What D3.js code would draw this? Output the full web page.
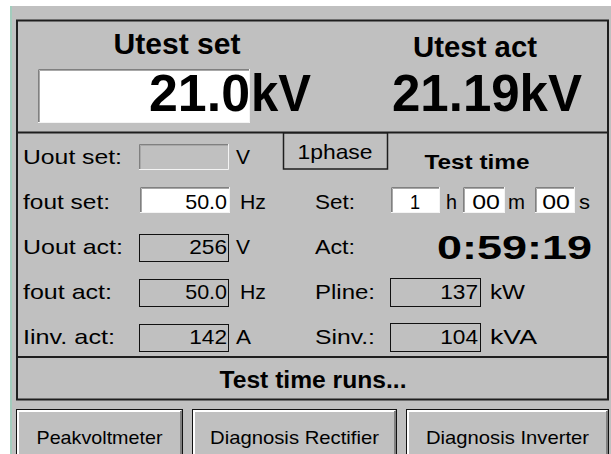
<!DOCTYPE html>
<html><head><meta charset="utf-8">
<script src="https://cdn.jsdelivr.net/npm/d3@7"></script>
<style>html,body{margin:0;padding:0;background:#fff;overflow:hidden}</style>
</head><body>
<svg id="c" width="611" height="454"></svg>
<script>
// ---- data ----
const headers = ["Utest set", "Utest act"];
const utestSet = "21.0";
const utestAct = "21.19";
const utestUnit = "kV";
const leftLabels = ["Uout set:", "fout set:", "Uout act:", "fout act:", "Iinv. act:"];
const leftValues = ["", "50.0", "256", "50.0", "142"];
const leftUnits = ["V", "Hz", "V", "Hz", "A"];
const leftKinds = ["empty", "input", "display", "display", "display"];
const phaseLabel = "1phase";
const testTimeTitle = "Test time";
const rightLabels = ["Set:", "Act:", "Pline:", "Sinv.:"];
const timeSetValues = ["1", "00", "00"];
const timeSetUnits = ["h", "m", "s"];
const timeAct = "0:59:19";
const powerValues = ["137", "104"];
const powerUnits = ["kW", "kVA"];
const statusText = "Test time runs...";
const buttonLabels = ["Peakvoltmeter", "Diagnosis Rectifier", "Diagnosis Inverter"];

// ---- layout ----
const FONT = "'Liberation Sans', Arial, sans-serif";
const GRAY = "#c0c0c0", DARK = "#1e1e1e";
const FS = 21;           // body font size
const DIGIT_W = 12.6;    // approx. rendered width per digit in the reference
const svg = d3.select("#c");

svg.append("rect").attr("width", 611).attr("height", 454).attr("fill", "#fff");
svg.append("rect").attr("x", 12).attr("y", 6).attr("width", 599).attr("height", 448).attr("fill", GRAY);
svg.append("rect").attr("x", 10).attr("y", 6).attr("width", 2).attr("height", 448).attr("fill", "#a3cdbd");

// section frames
svg.append("rect").attr("x", 17).attr("y", 20.5).attr("width", 591).attr("height", 379)
  .attr("fill", "none").attr("stroke", DARK).attr("stroke-width", 2);
[132.5, 357].forEach(y => svg.append("line").attr("x1", 17).attr("x2", 608).attr("y1", y).attr("y2", y)
  .attr("stroke", DARK).attr("stroke-width", 2));

function txt(g, s, x, y, size, opts = {}) {
  const t = g.append("text").attr("x", x).attr("y", y).text(s)
    .attr("font-family", FONT).attr("font-size", size).attr("fill", "#000")
    .attr("font-weight", opts.bold ? "bold" : "normal")
    .attr("text-anchor", opts.anchor || "start");
  if (opts.len) t.attr("textLength", opts.len).attr("lengthAdjust", "spacingAndGlyphs");
  return t;
}
function numLen(s) { return s.replace(/\./g, "").length * DIGIT_W + (s.includes(".") ? 4 : 0); }
function sunken(g, x, y, w, h, fill) {
  g.append("rect").attr("x", x).attr("y", y).attr("width", w).attr("height", h).attr("fill", fill);
  g.append("path").attr("d", `M${x+0.5},${y+h}V${y+0.5}H${x+w}`).attr("fill", "none").attr("stroke", "#808080").attr("stroke-width", 1);
  g.append("path").attr("d", `M${x+1.5},${y+h-1}V${y+1.5}H${x+w-1}`).attr("fill", "none").attr("stroke", "#a8a8a8").attr("stroke-width", 1);
  g.append("path").attr("d", `M${x},${y+h-0.5}H${x+w-0.5}V${y}`).attr("fill", "none").attr("stroke", "#f4f4f4").attr("stroke-width", 1);
}
function display(g, x, y, w, h) {
  g.append("rect").attr("x", x + 0.5).attr("y", y + 0.5).attr("width", w - 1).attr("height", h - 1)
    .attr("fill", GRAY).attr("stroke", "#111").attr("stroke-width", 1);
}

// ---- top section ----
const topG = svg.append("g");
const headX = d3.scalePoint().domain(headers).range([177, 475]);
const headLen = [127, 124], headY = [54, 57];
headers.forEach((h, i) => txt(topG, h, headX(h), headY[i], 29, { bold: true, anchor: "middle", len: headLen[i] }));
sunken(topG, 38, 69, 212, 54, "#fff");
txt(topG, utestSet, 250, 111, 51, { bold: true, anchor: "end", len: 101 });
txt(topG, utestUnit, 251, 111, 51, { bold: true, len: 60 });
txt(topG, utestAct + utestUnit, 392, 111, 51, { bold: true, len: 190 });

// ---- middle section ----
const mid = svg.append("g");
const rowY = d3.scalePoint().domain(d3.range(5)).range([157, 337]);
const leftLens = [99, 87, 100, 89, 92];
const unitLen = { "V": 14, "Hz": 26, "A": 15, "kW": 35, "kVA": 47 };
leftLabels.forEach((l, i) => {
  const cy = rowY(i);
  txt(mid, l, 23, cy + 7, FS, { len: leftLens[i] });
  const bx = 139, bw = 90, by = cy - 13, bh = 27;
  if (leftKinds[i] === "display") display(mid, bx, by, bw, bh + 1);
  else sunken(mid, bx + (leftKinds[i] === "input" ? 1 : 0), by - (leftKinds[i] === "empty" ? 0 : 2), bw, bh - 1, leftKinds[i] === "input" ? "#fff" : GRAY);
  if (leftValues[i]) txt(mid, leftValues[i], 227, cy + 7, FS, { anchor: "end", len: numLen(leftValues[i]) });
  txt(mid, leftUnits[i], leftUnits[i] === "Hz" ? 240 : 236, cy + 7, FS, { len: unitLen[leftUnits[i]] });
});

// 1phase box
mid.append("rect").attr("x", 283.5).attr("y", 133).attr("width", 104).attr("height", 36)
  .attr("fill", GRAY).attr("stroke", DARK).attr("stroke-width", 1.5);
txt(mid, phaseLabel, 335, 159, FS, { anchor: "middle", len: 75 });
txt(mid, testTimeTitle, 477, 169, 21, { bold: true, anchor: "middle", len: 105 });

rightLabels.forEach((l, i) => txt(mid, l, 315, rowY(i + 1) + 7, FS, { len: i < 2 ? 40 : 60 }));

// time set boxes
const tBoxes = [[391, 49], [463, 42], [535, 40]];
const tUnitX = [446, 508, 579];
const tUnitLen = [11, 17, 11];
timeSetValues.forEach((v, i) => {
  const cy = rowY(1);
  sunken(mid, tBoxes[i][0], cy - 15, tBoxes[i][1], 26, "#fff");
  txt(mid, v, i === 0 ? tBoxes[i][0] + 24 : tBoxes[i][0] + tBoxes[i][1] - 5, cy + 7, FS,
      { anchor: i === 0 ? "middle" : "end", len: numLen(v) * (i === 0 ? 0.8 : 1.1) });
  txt(mid, timeSetUnits[i], tUnitX[i], cy + 7, FS, { len: tUnitLen[i] });
});
txt(mid, timeAct, 437, rowY(2) + 12, 34, { bold: true, len: 155 });

powerValues.forEach((v, i) => {
  const cy = rowY(i + 3);
  display(mid, 390, cy - 14, 91, 29);
  txt(mid, v, 478, cy + 7, FS, { anchor: "end", len: numLen(v) });
  txt(mid, powerUnits[i], 490, cy + 7, FS, { len: unitLen[powerUnits[i]] });
});

// ---- status ----
txt(svg, statusText, 313, 388, 23, { bold: true, anchor: "middle", len: 187 });

// ---- buttons ----
const btnExt = [[16, 183], [192, 397], [406, 609]];
const btnLen = [126, 169, 163];
const btn = svg.append("g");
buttonLabels.forEach((b, i) => {
  const [x0, x1] = btnExt[i], y0 = 409, y1 = 462;
  btn.append("rect").attr("x", x0 + 0.5).attr("y", y0 + 0.5).attr("width", x1 - x0 - 1).attr("height", y1 - y0)
    .attr("fill", GRAY).attr("stroke", "#111");
  btn.append("path").attr("d", `M${x0+2},${y1}V${y0+2}H${x1-2}`).attr("fill", "none").attr("stroke", "#fff").attr("stroke-width", 2);
  btn.append("path").attr("d", `M${x1-2},${y0+2}V${y1}`).attr("fill", "none").attr("stroke", "#808080").attr("stroke-width", 2);
  txt(btn, b, (x0 + x1) / 2, 444, 19, { anchor: "middle", len: btnLen[i] });
});
</script>
</body></html>
